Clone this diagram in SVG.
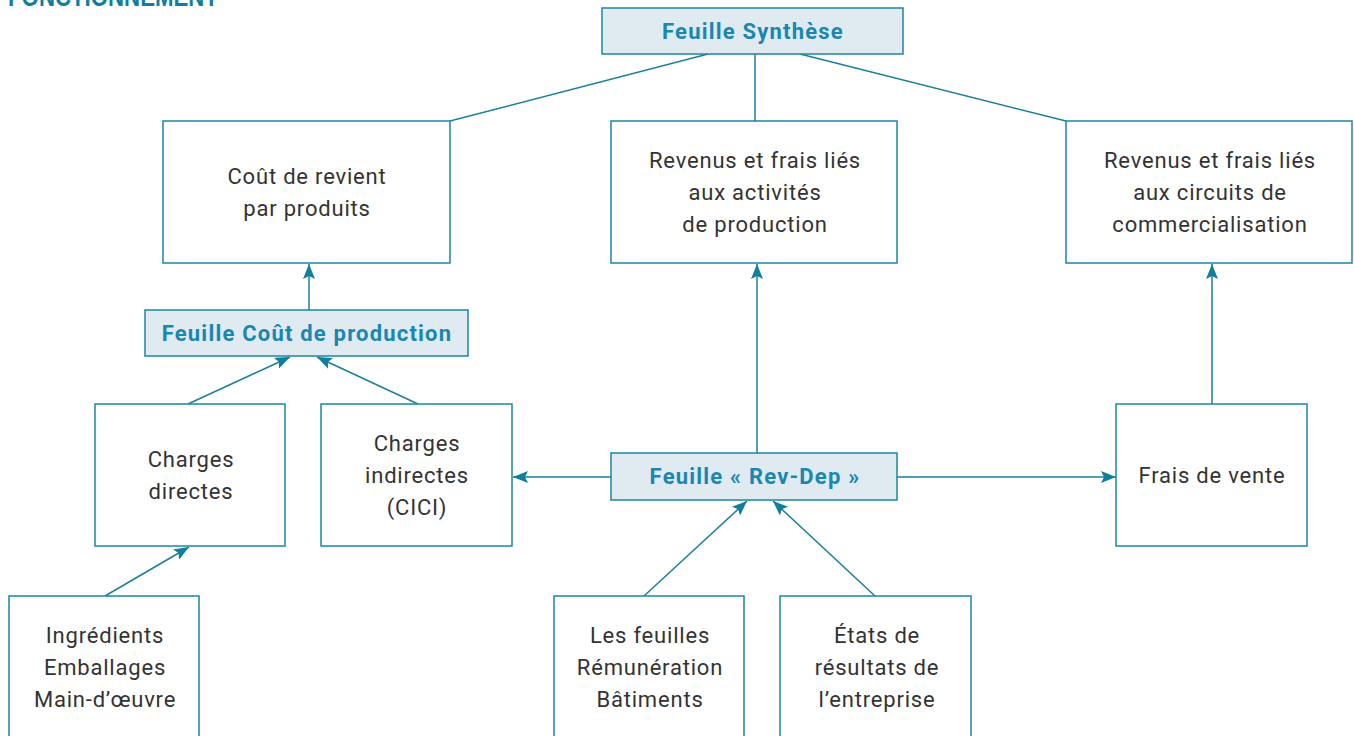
<svg xmlns="http://www.w3.org/2000/svg" width="1354" height="736" viewBox="0 0 1354 736">
<defs>
<style>
.box{fill:#ffffff;stroke:#1b86a4;stroke-width:1.5}
.hbox{fill:#dfeaf1;stroke:#1b86a4;stroke-width:1.5}
.t{font-family:Roboto,"Liberation Sans",sans-serif;font-size:22px;letter-spacing:0.8px;fill:#333333;text-anchor:middle}
.h{font-family:Roboto,"Liberation Sans",sans-serif;font-size:22px;letter-spacing:1.2px;font-weight:bold;fill:#1a86b2;text-anchor:middle}
.c{stroke:#1b7f9c;stroke-width:1.5;fill:none}
.title{font-family:"Liberation Sans",Arial,sans-serif;font-size:27px;font-weight:bold;fill:#0f7f9d}
</style>
<marker id="ah" viewBox="0 0 15 12" refX="15" refY="6" markerWidth="15" markerHeight="12" markerUnits="userSpaceOnUse" orient="auto">
<path d="M0,0 L15,6 L0,12 L3,6 Z" fill="#107f9c"/>
</marker>
</defs>
<rect width="1354" height="736" fill="#ffffff"/>
<text class="title" x="8" y="6" textLength="210" lengthAdjust="spacingAndGlyphs">FONCTIONNEMENT</text>

<g id="connectors">
<line class="c" x1="708" y1="54" x2="450" y2="121"/>
<line class="c" x1="755" y1="54" x2="755" y2="121"/>
<line class="c" x1="800" y1="54" x2="1066" y2="121"/>
<line class="c" x1="309" y1="310" x2="309" y2="264" marker-end="url(#ah)"/>
<line class="c" x1="188" y1="404" x2="290" y2="357" marker-end="url(#ah)"/>
<line class="c" x1="418" y1="404" x2="317" y2="357" marker-end="url(#ah)"/>
<line class="c" x1="105" y1="596" x2="189" y2="547" marker-end="url(#ah)"/>
<line class="c" x1="757" y1="453" x2="757" y2="264" marker-end="url(#ah)"/>
<line class="c" x1="611" y1="477" x2="513" y2="477" marker-end="url(#ah)"/>
<line class="c" x1="897" y1="477" x2="1116" y2="477" marker-end="url(#ah)"/>
<line class="c" x1="1212" y1="404" x2="1212" y2="264" marker-end="url(#ah)"/>
<line class="c" x1="644" y1="596" x2="747" y2="501" marker-end="url(#ah)"/>
<line class="c" x1="875" y1="596" x2="773" y2="501" marker-end="url(#ah)"/>
</g>

<g id="synthese">
<rect class="hbox" x="602" y="8" width="301" height="46"/>
<text class="h" x="753" y="39">Feuille Synthèse</text>
</g>

<g id="cout-revient">
<rect class="box" x="163" y="121" width="287" height="142"/>
<text class="t" x="307" y="184">Coût de revient</text>
<text class="t" x="307" y="216">par produits</text>
</g>

<g id="revenus-production">
<rect class="box" x="611" y="121" width="286" height="142"/>
<text class="t" x="755" y="168">Revenus et frais liés</text>
<text class="t" x="755" y="200">aux activités</text>
<text class="t" x="755" y="232">de production</text>
</g>

<g id="revenus-commercialisation">
<rect class="box" x="1066" y="121" width="286" height="142"/>
<text class="t" x="1210" y="168">Revenus et frais liés</text>
<text class="t" x="1210" y="200">aux circuits de</text>
<text class="t" x="1210" y="232">commercialisation</text>
</g>

<g id="cout-production">
<rect class="hbox" x="145" y="310" width="323" height="46"/>
<text class="h" x="307" y="341">Feuille Coût de production</text>
</g>

<g id="charges-directes">
<rect class="box" x="95" y="404" width="190" height="142"/>
<text class="t" x="191" y="467">Charges</text>
<text class="t" x="191" y="499">directes</text>
</g>

<g id="charges-indirectes">
<rect class="box" x="321" y="404" width="191" height="142"/>
<text class="t" x="417" y="451">Charges</text>
<text class="t" x="417" y="483">indirectes</text>
<text class="t" x="417" y="515">(CICI)</text>
</g>

<g id="rev-dep">
<rect class="hbox" x="611" y="453" width="286" height="47"/>
<text class="h" x="755" y="484">Feuille « Rev-Dep »</text>
</g>

<g id="frais-vente">
<rect class="box" x="1116" y="404" width="191" height="142"/>
<text class="t" x="1212" y="483">Frais de vente</text>
</g>

<g id="ingredients">
<rect class="box" x="9" y="596" width="190" height="150"/>
<text class="t" x="105" y="643">Ingrédients</text>
<text class="t" x="105" y="675">Emballages</text>
<text class="t" x="105" y="707">Main-d’œuvre</text>
</g>

<g id="feuilles">
<rect class="box" x="554" y="596" width="190" height="150"/>
<text class="t" x="650" y="643">Les feuilles</text>
<text class="t" x="650" y="675">Rémunération</text>
<text class="t" x="650" y="707">Bâtiments</text>
</g>

<g id="etats">
<rect class="box" x="780" y="596" width="191" height="150"/>
<text class="t" x="877" y="643">États de</text>
<text class="t" x="877" y="675">résultats de</text>
<text class="t" x="877" y="707">l’entreprise</text>
</g>
</svg>
